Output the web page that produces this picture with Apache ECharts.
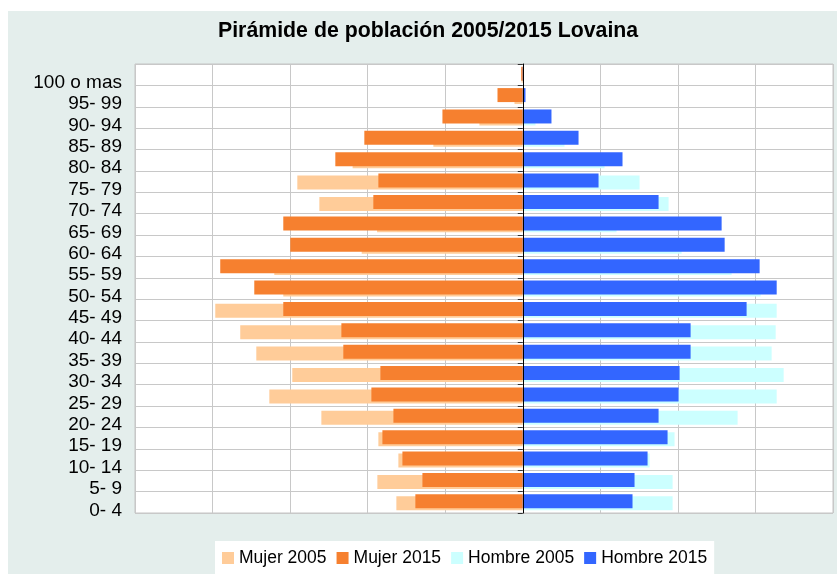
<!DOCTYPE html>
<html>
<head>
<meta charset="utf-8">
<script src="https://cdn.jsdelivr.net/npm/echarts@6/dist/echarts.min.js"></script>
<style>html,body{margin:0;padding:0;background:#fff;}#c{width:837px;height:574px;}</style>
</head>
<body>
<div id="c"></div>
<script>
const categories = ['0- 4','5- 9','10- 14','15- 19','20- 24','25- 29','30- 34','35- 39','40- 44','45- 49','50- 54','55- 59','60- 64','65- 69','70- 74','75- 79','80- 84','85- 89','90- 94','95- 99','100 o mas'];
const mujer2005 = [1630,1875,1604,1862,2597,3268,2972,3436,3643,3965,3088,3204,2077,1879,2623,2907,2194,1153,559,107,15];
const mujer2015 = [1385,1294,1552,1810,1668,1952,1836,2314,2339,3088,3462,3901,2998,3088,1927,1862,2417,2043,1036,326,20];
const hombre2005 = [1932,1932,1635,1957,2770,3274,3364,3209,3261,3274,3067,2693,2048,1209,1880,1506,1054,538,164,15,2];
const hombre2015 = [1415,1441,1609,1867,1751,2009,2022,2164,2164,2886,3274,3054,2603,2564,1751,977,1286,719,370,35,3];
const seriesNames = ['Mujer 2005','Mujer 2015','Hombre 2005','Hombre 2015'];

const font = 'Liberation Sans, Arial, sans-serif';
const chart = echarts.init(document.getElementById('c'));
const neg = a => a.map(v => -v);
const barBase = { type: 'bar', barWidth: 14, barGap: '-86%', yAxisIndex: 0 };
chart.setOption({
  animation: false,
  backgroundColor: '#ffffff',
  graphic: [{ type: 'rect', z: -100, silent: true, shape: { x: 8, y: 11, width: 829, height: 563 }, style: { fill: '#e4eeec' } }],
  title: {
    text: 'Pirámide de población 2005/2015 Lovaina',
    left: 218, top: 21, padding: 0,
    textStyle: { fontFamily: font, fontSize: 21.3, fontWeight: 'bold', color: '#000' }
  },
  legend: {
    data: seriesNames,
    left: 215, top: 541,
    backgroundColor: '#ffffff',
    padding: [8, 7, 10, 7],
    itemWidth: 12, itemHeight: 12, itemGap: 10,
    icon: 'rect',
    textStyle: { fontFamily: font, fontSize: 17.5, color: '#000' }
  },
  grid: { left: 135, right: 4, top: 64, bottom: 61, show: true, backgroundColor: '#ffffff', borderColor: '#c4c4c4', borderWidth: 1 },
  xAxis: {
    type: 'value', min: -5000, max: 4000, interval: 1000,
    axisLabel: { show: false }, axisLine: { show: false, onZero: false }, axisTick: { show: false },
    splitLine: { show: true, lineStyle: { color: '#c8c8c8', width: 1 } }
  },
  yAxis: [{
    type: 'category', data: categories,
    axisLine: { show: false, onZero: false }, axisTick: { show: false },
    axisLabel: { interval: 0, fontFamily: font, fontSize: 19, color: '#000', margin: 13, verticalAlign: 'top', lineHeight: 16 },
    splitLine: { show: true, interval: 0, lineStyle: { color: '#c8c8c8', width: 1 } }
  }, {
    type: 'category', data: categories, position: 'left', z: 10,
    axisLine: { show: true, onZero: true, lineStyle: { color: '#000', width: 1 } },
    axisTick: { show: true, interval: 0, length: 5, lineStyle: { color: '#333' } },
    axisLabel: { show: false }, splitLine: { show: false }
  }],
  series: [
    Object.assign({}, barBase, { name: 'Mujer 2015', stack: 's15', z: 3, data: neg(mujer2015), itemStyle: { color: '#f6802f' } }),
    Object.assign({}, barBase, { name: 'Hombre 2015', stack: 's15', z: 3, data: hombre2015, itemStyle: { color: '#3366ff' } }),
    Object.assign({}, barBase, { name: 'Mujer 2005', stack: 's05', z: 2, data: neg(mujer2005), itemStyle: { color: '#ffcc99' } }),
    Object.assign({}, barBase, { name: 'Hombre 2005', stack: 's05', z: 2, data: hombre2005, itemStyle: { color: '#ccffff' } })
  ]
});
</script>
</body>
</html>
